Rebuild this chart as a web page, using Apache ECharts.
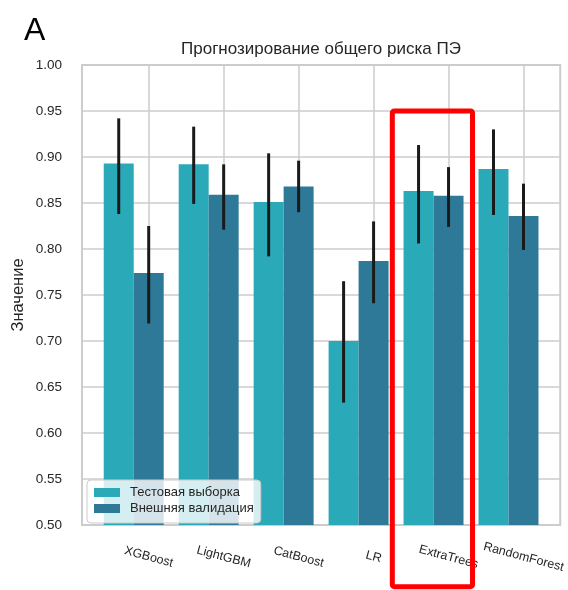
<!DOCTYPE html>
<html>
<head>
<meta charset="utf-8">
<script src="https://cdn.jsdelivr.net/npm/echarts@6/dist/echarts.min.js"></script>
<style>
  html, body { margin: 0; padding: 0; background: #ffffff; }
  #chart { width: 568px; height: 590px; }
</style>
</head>
<body>
<div id="chart"></div>
<script>
// Models compared
const categories = ['XGBoost', 'LightGBM', 'CatBoost', 'LR', 'ExtraTrees', 'RandomForest'];

// Test set: mean score with confidence interval bounds
const testMean = [0.893, 0.892, 0.851, 0.700, 0.863, 0.887];
const testLow  = [0.838, 0.849, 0.792, 0.633, 0.806, 0.837];
const testHigh = [0.942, 0.933, 0.904, 0.765, 0.913, 0.930];

// External validation: mean score with confidence interval bounds
const extMean = [0.774, 0.859, 0.868, 0.787, 0.858, 0.836];
const extLow  = [0.719, 0.821, 0.840, 0.741, 0.824, 0.799];
const extHigh = [0.825, 0.892, 0.896, 0.830, 0.889, 0.871];

// Y axis ticks
const yTicks = [0.50, 0.55, 0.60, 0.65, 0.70, 0.75, 0.80, 0.85, 0.90, 0.95, 1.00];

const seriesNames = ['Тестовая выборка', 'Внешняя валидация'];
const colors = ['#2aa9b9', '#2e7997'];

const BAR_W = 0.4;       // each bar width in category units
const TICK_SHIFT = 0.2;  // tick / label position relative to group centre
const yMin = yTicks[0], yMax = yTicks[yTicks.length - 1];

const tickValues = categories.map((c, i) => i + TICK_SHIFT);

function barSeries(name, color, mean, low, high, side) {
  return {
    type: 'custom',
    name: name,
    itemStyle: { color: color },
    data: mean.map((v, i) => [i, v, low[i], high[i]]),
    encode: { x: 0, y: 1 },
    clip: true,
    renderItem: function (params, api) {
      const i = api.value(0);
      const x0 = side < 0 ? i - BAR_W : i;
      const x1 = x0 + BAR_W;
      const pTop = api.coord([x0, api.value(1)]);
      const pEnd = api.coord([x1, yMin]);
      const xc = (x0 + x1) / 2;
      const eLo = api.coord([xc, api.value(2)]);
      const eHi = api.coord([xc, api.value(3)]);
      return {
        type: 'group',
        children: [
          {
            type: 'rect',
            shape: { x: pTop[0], y: pTop[1], width: pEnd[0] - pTop[0], height: pEnd[1] - pTop[1] },
            style: { fill: color }
          },
          {
            type: 'line',
            shape: { x1: eLo[0], y1: eLo[1], x2: eHi[0], y2: eHi[1] },
            style: { stroke: '#1a1a1a', lineWidth: 3 }
          }
        ]
      };
    }
  };
}

const chart = echarts.init(document.getElementById('chart'), null, { renderer: 'canvas' });

const textColor = '#262626';
const fontFamily = '"Liberation Sans", Arial, sans-serif';

chart.setOption({
  animation: false,
  backgroundColor: '#ffffff',
  textStyle: { fontFamily: fontFamily },
  title: [
    {
      text: 'A',
      left: 24, top: 15, padding: 0,
      textStyle: { fontSize: 32, fontWeight: 'normal', color: '#000000', fontFamily: fontFamily }
    },
    {
      text: 'Прогнозирование общего риска ПЭ',
      left: 181, top: 41, padding: 0,
      textStyle: { fontSize: 17, fontWeight: 'normal', color: textColor, fontFamily: fontFamily }
    }
  ],
  grid: {
    left: 82, right: 4, top: 65, bottom: 65,
    show: true, borderColor: '#cccccc', borderWidth: 2, backgroundColor: 'transparent'
  },
  legend: {
    orient: 'vertical',
    left: 87, top: 480,
    padding: [6, 7, 8, 7],
    itemWidth: 26, itemHeight: 9, itemGap: 3,
    icon: 'rect',
    backgroundColor: 'rgba(255,255,255,0.8)',
    borderColor: '#cccccc', borderWidth: 1, borderRadius: 4,
    textStyle: { fontSize: 13, color: textColor, padding: [0, 0, 0, 5], fontFamily: fontFamily },
    data: seriesNames
  },
  xAxis: {
    type: 'value',
    min: -0.69, max: 5.69,
    axisLine: { show: false },
    axisTick: { show: false, customValues: tickValues },
    splitLine: { show: true, lineStyle: { color: '#cccccc', width: 1.5 } },
    axisLabel: {
      customValues: tickValues,
      rotate: -15,
      align: 'center',
      verticalAlign: 'middle',
      margin: 32,
      fontSize: 12.5,
      color: textColor,
      formatter: function (v) { return categories[Math.round(v - TICK_SHIFT)]; }
    }
  },
  yAxis: {
    type: 'value',
    min: yMin, max: yMax, interval: 0.05,
    name: 'Значение',
    nameLocation: 'middle',
    nameGap: 55,
    nameMoveOverlap: false,
    nameRotate: 90,
    nameTextStyle: { fontSize: 16.5, color: textColor },
    axisLine: { show: false },
    axisTick: { show: false },
    splitLine: { show: true, lineStyle: { color: '#cccccc', width: 1.5 } },
    axisLabel: {
      margin: 20, fontSize: 13.5, color: textColor,
      formatter: function (v) { return v.toFixed(2); }
    }
  },
  series: [
    barSeries(seriesNames[0], colors[0], testMean, testLow, testHigh, -1),
    barSeries(seriesNames[1], colors[1], extMean, extLow, extHigh, 1)
  ]
});

// Highlight frame around the ExtraTrees group
const highlight = { x0: 3.45, x1: 4.52, top: 0.95, bottom: 0.433 };
const pA = chart.convertToPixel({ gridIndex: 0 }, [highlight.x0, highlight.top]);
const pB = chart.convertToPixel({ gridIndex: 0 }, [highlight.x1, highlight.bottom]);
chart.setOption({
  graphic: [{
    type: 'rect',
    z: 100,
    shape: { x: pA[0], y: pA[1], width: pB[0] - pA[0], height: pB[1] - pA[1], r: 2 },
    style: { fill: 'none', stroke: '#ff0000', lineWidth: 5 }
  }]
});
</script>
</body>
</html>
